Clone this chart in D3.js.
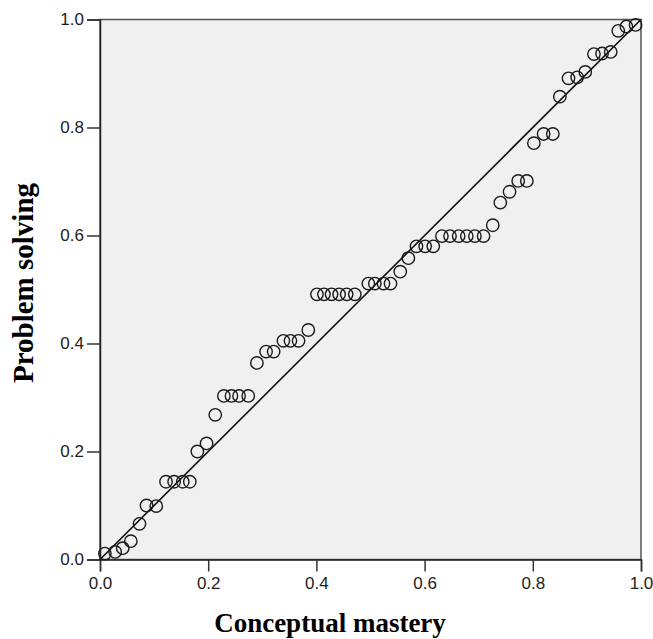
<html>
<head>
	<meta charset='utf-8' />
	<title>P-P plot</title>
	<script src="https://cdn.jsdelivr.net/npm/d3@7"></script>
	<style>
	body { margin: 0; background: #ffffff; }
	.tick text { font-family: "Liberation Sans", Arial, sans-serif; font-size: 17px; fill: #222; }
	.title { font-family: "Liberation Serif", "Times New Roman", serif; font-weight: bold; font-size: 27px; fill: #000; }
	</style>
</head>
<body>
<script>

	// observed cumulative proportion (conceptual mastery)
	var mastery = [0.009, 0.028, 0.042, 0.057, 0.073, 0.086, 0.104, 0.122, 0.137, 0.153,
		0.166, 0.180, 0.197, 0.213, 0.229, 0.243, 0.257, 0.274, 0.290, 0.307,
		0.321, 0.339, 0.352, 0.367, 0.385, 0.401, 0.414, 0.428, 0.442, 0.456,
		0.471, 0.496, 0.508, 0.524, 0.537, 0.555, 0.570, 0.585, 0.601, 0.616,
		0.632, 0.647, 0.663, 0.678, 0.693, 0.709, 0.726, 0.740, 0.757, 0.773,
		0.789, 0.802, 0.820, 0.837, 0.850, 0.866, 0.882, 0.897, 0.913, 0.928,
		0.944, 0.958, 0.973, 0.990];
	// problem solving
	var solving = [0.011, 0.014, 0.021, 0.034, 0.066, 0.100, 0.099, 0.144, 0.144, 0.144,
		0.144, 0.200, 0.215, 0.268, 0.303, 0.303, 0.303, 0.303, 0.364, 0.385,
		0.385, 0.405, 0.405, 0.405, 0.425, 0.491, 0.491, 0.491, 0.491, 0.491,
		0.491, 0.511, 0.511, 0.511, 0.511, 0.533, 0.558, 0.580, 0.580, 0.580,
		0.599, 0.599, 0.599, 0.599, 0.599, 0.599, 0.619, 0.661, 0.681, 0.701,
		0.701, 0.771, 0.788, 0.788, 0.857, 0.891, 0.893, 0.903, 0.936, 0.937,
		0.940, 0.979, 0.987, 0.990];
	var ticks = [0, 0.2, 0.4, 0.6, 0.8, 1.0];

	var data = mastery.map((m,i)=>({x:m, y:solving[i]}));

	var svg = d3.select("body").append("svg")
		.attr("width",653).attr("height",639)
		.style("display","block");

	var x = d3.scaleLinear().domain([0,1]).range([100,641]);
	var y = d3.scaleLinear().domain([0,1]).range([559.5,19.5]);

	svg.append("rect")
		.attr("x",x(0)).attr("y",y(1))
		.attr("width",x(1)-x(0)).attr("height",y(0)-y(1))
		.attr("fill","#f0f0f0").attr("stroke","#555").attr("stroke-width",1.5);

	var xAxis = svg.append("g")
		.attr("transform","translate(0,"+y(0)+")")
		.call(d3.axisBottom(x).tickValues(ticks).tickFormat(d3.format(".1f")).tickSize(12).tickPadding(5));
	var yAxis = svg.append("g")
		.attr("transform","translate("+x(0)+",0)")
		.call(d3.axisLeft(y).tickValues(ticks).tickFormat(d3.format(".1f")).tickSize(13).tickPadding(3));
	[xAxis,yAxis].forEach(function(a) {
		a.select(".domain").attr("stroke","#222").attr("stroke-width",1.5);
		a.selectAll(".tick line").attr("stroke","#333").attr("stroke-width",1.5);
		a.selectAll(".tick text").attr("font-family",null).attr("font-size",null);
	});

	// reference diagonal
	svg.append("line")
		.attr("x1",x(0)).attr("y1",y(0)).attr("x2",x(1)).attr("y2",y(1))
		.attr("stroke","#111").attr("stroke-width",1.6);

	svg.append("g").selectAll("circle").data(data).enter().append("circle")
		.attr("cx",d=>x(d.x)).attr("cy",d=>y(d.y)).attr("r",6.2)
		.attr("fill","none").attr("stroke","#1a1a1a").attr("stroke-width",1.4);

	svg.append("text").attr("class","title")
		.attr("x",330).attr("y",632).attr("text-anchor","middle")
		.text("Conceptual mastery");
	svg.append("text").attr("class","title")
		.attr("transform","translate(33,283) rotate(-90)")
		.attr("text-anchor","middle")
		.style("font-size","29px")
		.text("Problem solving");

</script>
</body>
</html>
